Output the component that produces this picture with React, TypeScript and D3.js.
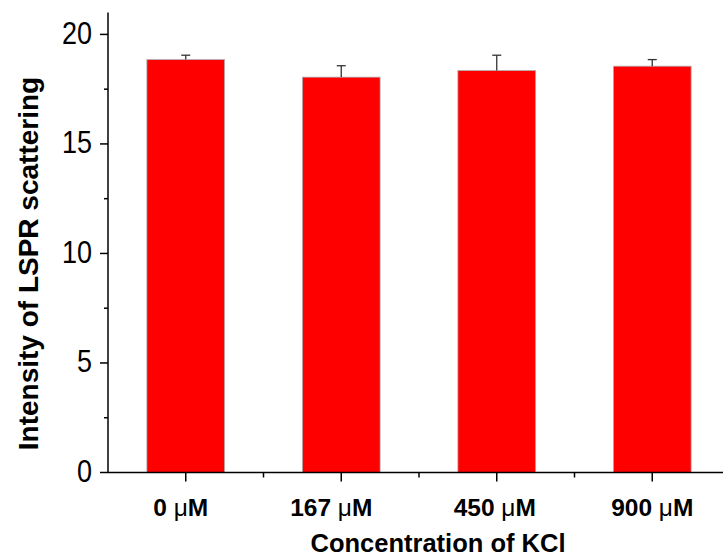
import React from "react";
import * as d3 from "d3";

const categories = ["0", "167", "450", "900"];
const values = [18.85, 18.05, 18.35, 18.55];
const errors = [0.2, 0.52, 0.7, 0.3];
const yTicks = [0, 5, 10, 15, 20];
const yMinorTicks = [2.5, 7.5, 12.5, 17.5];
const unitLabel = "μM";
const xTitle = "Concentration of KCl";
const yTitle = "Intensity of LSPR scattering";

// layout-only nudges of the category labels (px)
const xLabelShift = [-5, -10, -2, 0];

const W = 723;
const H = 556;
const FONT = "'Liberation Sans', Arial, sans-serif";

export default function App() {
  const x = d3.scaleBand<string>().domain(categories).range([108, 730]).paddingInner(0.5).paddingOuter(0.25);
  const step = x.step();
  const y = d3.scaleLinear().domain([0, 21]).range([472.5, 12.5]);
  const x0 = 108;
  const y0 = y(0);
  const minorX = categories.slice(1).map((c) => (x(c) as number) - (step - x.bandwidth()) / 2);

  return (
    <svg width={W} height={H} style={{ position: "absolute", left: 0, top: 0, background: "#fff" }}>
      {categories.map((c, i) => (
        <rect
          key={c}
          x={x(c)}
          y={y(values[i])}
          width={x.bandwidth()}
          height={y0 - y(values[i])}
          fill="#ff0000"
          stroke="#b0b0b0"
          strokeWidth={0.8}
        />
      ))}
      {categories.map((c, i) => {
        const cx = (x(c) as number) + x.bandwidth() / 2;
        const top = y(values[i] + errors[i]);
        return (
          <g key={"e" + c} stroke="#333" strokeWidth={1.3}>
            <line x1={cx} x2={cx} y1={y(values[i])} y2={top} />
            <line x1={cx - 4.5} x2={cx + 4.5} y1={top} y2={top} />
          </g>
        );
      })}
      <line x1={x0} x2={x0} y1={y(21)} y2={y0} stroke="#000" strokeWidth={1.5} />
      {yTicks.map((t) => (
        <g key={"yt" + t}>
          <line x1={x0 - 8} x2={x0} y1={y(t)} y2={y(t)} stroke="#000" strokeWidth={1.5} />
          <text
            transform={`translate(92,${y(t) - 1.5}) scale(1,1.15)`}
            dy="0.35em"
            textAnchor="end"
            fontFamily={FONT}
            fontSize={27}
            fill="#000"
          >
            {t}
          </text>
        </g>
      ))}
      {yMinorTicks.map((t) => (
        <line key={"ym" + t} x1={x0 - 4} x2={x0} y1={y(t)} y2={y(t)} stroke="#000" strokeWidth={1.5} />
      ))}
      <line x1={x0} x2={730} y1={y0} y2={y0} stroke="#000" strokeWidth={1.5} />
      {categories.map((c, i) => {
        const cx = (x(c) as number) + x.bandwidth() / 2;
        return (
          <g key={"xt" + c}>
            <line x1={cx} x2={cx} y1={y0} y2={y0 + 9} stroke="#000" strokeWidth={1.5} />
            <text
              x={cx + xLabelShift[i]}
              y={516}
              textAnchor="middle"
              fontFamily={FONT}
              fontSize={24.5}
              fontWeight="bold"
              fill="#000"
            >
              {c}{" "}
              <tspan fontWeight="normal">{unitLabel.charAt(0)}</tspan>
              <tspan>{unitLabel.slice(1)}</tspan>
            </text>
          </g>
        );
      })}
      {minorX.map((mx, i) => (
        <line key={"xm" + i} x1={mx} x2={mx} y1={y0} y2={y0 + 5} stroke="#000" strokeWidth={1.5} />
      ))}
      <text x={438} y={552} textAnchor="middle" fontFamily={FONT} fontSize={25.5} fontWeight="bold" fill="#000">
        {xTitle}
      </text>
      <text
        transform={`translate(38,263.5) rotate(-90)`}
        textAnchor="middle"
        fontFamily={FONT}
        fontSize={28}
        fontWeight="bold"
        fill="#000"
      >
        {yTitle}
      </text>
    </svg>
  );
}
